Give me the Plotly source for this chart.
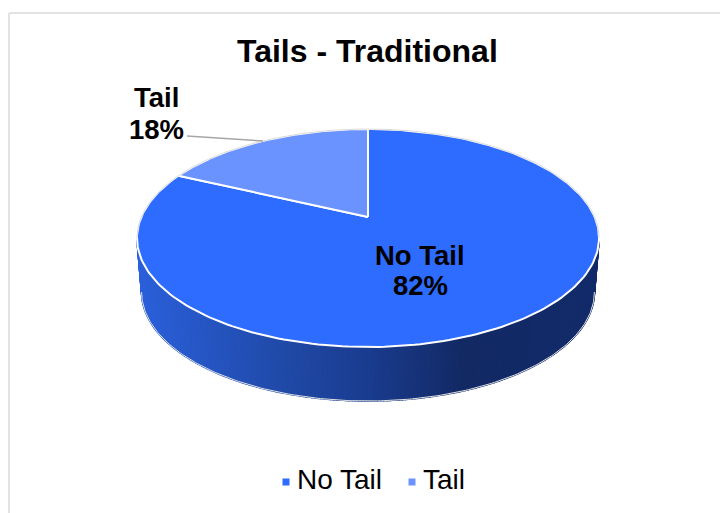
import numpy as np
import plotly.graph_objects as go

title = "Tails - Traditional"
categories = ["No Tail", "Tail"]
values = [82, 18]
slice_colors = ["#2E6BFF", "#6A93FF"]

FONT = "Liberation Sans, Arial, sans-serif"
W, H = 720, 513

# perspective projection of the pie's circular top face onto the page
CX, APEX_Y, A, B, K = 368.0, 217.0, 226.7, 104.95, 0.1927
DEPTH, BASE_SCALE = 54.0, 0.98


def top(theta):
    u, v = np.sin(theta), np.cos(theta)
    d = 1 + K * v
    return CX + A * u / d, APEX_Y - B * v / d


def bottom(theta):
    x, y = top(theta)
    return CX + (x - CX) * BASE_SCALE, y + DEPTH


def mix(x):
    stops_x = [140, 300, 368, 460, 600]
    r = np.interp(x, stops_x, [0x2B, 0x1F, 0x1A, 0x13, 0x13])
    g = np.interp(x, stops_x, [0x60, 0x47, 0x3C, 0x2A, 0x2B])
    b = np.interp(x, stops_x, [0xDA, 0xA2, 0x8F, 0x65, 0x6A])
    return f"rgb({r:.0f},{g:.0f},{b:.0f})"


fig = go.Figure()

# side wall, drawn as thin strips to give the horizontal gradient
t_start = np.arccos(-K)
edges = np.linspace(t_start, 2 * np.pi - t_start, 241)
for t0, t1 in zip(edges[:-1], edges[1:]):
    ts = np.linspace(t0, t1, 3)
    xt, yt = top(ts)
    xb, yb = bottom(ts[::-1])
    c = mix((xt.mean() + xb.mean()) / 2)
    fig.add_trace(go.Scatter(
        x=np.r_[xt, xb, xt[0]], y=np.r_[yt, yb, yt[0]], mode="lines",
        fill="toself", fillcolor=c, line=dict(color=c, width=1.5),
        hoverinfo="skip", showlegend=False))

# pale outline of the wall's lower edge
ts = np.linspace(t_start, 2 * np.pi - t_start, 200)
xb, yb = bottom(ts)
fig.add_trace(go.Scatter(x=xb, y=yb, mode="lines",
                         line=dict(color="#E2E2E2", width=1),
                         hoverinfo="skip", showlegend=False))

# top face: slices run clockwise from twelve o'clock
total = sum(values)
start = 0.0
for name, val, col in zip(categories, values, slice_colors):
    end = start + 2 * np.pi * val / total
    ts = np.linspace(start, end, 240)
    xa, ya = top(ts)
    fig.add_trace(go.Scatter(
        x=np.r_[CX, xa, CX], y=np.r_[APEX_Y, ya, APEX_Y], mode="lines",
        fill="toself", fillcolor=col, line=dict(color="#FFFFFF", width=2),
        hoverinfo="skip", showlegend=False))
    start = end

# pale rim around the far side of the top face
ts = np.linspace(2 * np.pi - t_start, 2 * np.pi + t_start, 300)
xr, yr = top(ts)
fig.add_trace(go.Scatter(x=xr, y=yr, mode="lines",
                         line=dict(color="#DADADA", width=1),
                         hoverinfo="skip", showlegend=False))

# legend, as markers with real text
legend_marker_x = [286, 412]
legend_y = 482
fig.add_trace(go.Scatter(
    x=legend_marker_x, y=[legend_y] * 2, mode="markers+text",
    marker=dict(symbol="square", size=7, color=slice_colors),
    text=["\u2009" + c for c in categories], textposition="middle right",
    textfont=dict(family=FONT, size=28, color="#000000"),
    hoverinfo="skip", showlegend=False))

annotations = [dict(x=367, y=51, text=f"<b>{title}</b>", showarrow=False,
                    font=dict(family=FONT, size=32, color="#000000"))]
label_pos = [(420, 255, 285), (156, 97, 129)]
for name, val, (lx, y1, y2) in zip(categories, values, label_pos):
    annotations.append(dict(x=lx, y=y1, text=f"<b>{name}</b>", showarrow=False,
                            font=dict(family=FONT, size=27.5, color="#000000")))
    annotations.append(dict(x=lx, y=y2, text=f"<b>{val}%</b>", showarrow=False,
                            font=dict(family=FONT, size=27.5, color="#000000")))

shapes = [
    dict(type="line", x0=187, y0=136, x1=263, y1=141,
         line=dict(color="#A6A6A6", width=1.5), layer="above"),
    dict(type="line", x0=9, y0=13, x1=720, y1=13,
         line=dict(color="#E3E3E3", width=2), layer="below"),
    dict(type="line", x0=9, y0=13, x1=9, y1=513,
         line=dict(color="#E3E3E3", width=2), layer="below"),
]

fig.update_layout(
    width=W, height=H, margin=dict(l=0, r=0, t=0, b=0),
    paper_bgcolor="#FFFFFF", plot_bgcolor="#FFFFFF",
    xaxis=dict(range=[0, W], visible=False, fixedrange=True),
    yaxis=dict(range=[H, 0], visible=False, fixedrange=True),
    annotations=annotations, shapes=shapes, showlegend=False,
)
fig.write_html("out.html", config=dict(displayModeBar=False),
               post_script="document.body.style.margin='0';document.body.style.overflow='hidden';")
